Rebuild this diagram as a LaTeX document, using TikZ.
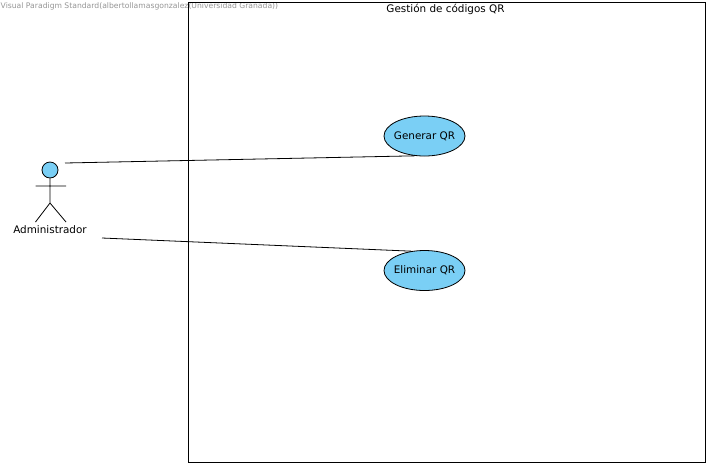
\documentclass[tikz,border=0pt]{standalone}
\usepackage{fontspec}
\setmainfont{DejaVu Sans}
\usetikzlibrary{shapes.geometric}
\definecolor{ucfill}{RGB}{122,207,245}
\definecolor{wmgray}{RGB}{150,150,150}
\newcommand{\uctext}[1]{\makebox[0pt][c]{#1}}
\tikzset{
  usecase/.style={ellipse,draw=black,fill=ucfill,line width=0.8pt,minimum width=81pt,minimum height=40pt,inner sep=0pt,font=\fontsize{10.4}{12}\selectfont},
  link/.style={draw=black,line width=0.8pt},
  stick/.style={draw=black,line width=0.8pt},
  lbl/.style={inner sep=0pt,font=\fontsize{10.4}{12}\selectfont},
  head/.style={circle,draw=black,fill=ucfill,line width=0.8pt,minimum size=16pt,inner sep=0pt},
  sysbox/.style={draw=black,line width=0.9pt,fill=none}
}
\begin{document}
\begin{tikzpicture}[x=1pt,y=-1pt]
\useasboundingbox[fill=white] (0,0) rectangle (709,467);
\node[anchor=west,inner sep=0pt,text=wmgray,font=\fontsize{7.65}{9}\selectfont] (wm) at (0.5,6.5) {Visual Paradigm Standard(albertollamasgonzalez(Universidad Granada))};
\node[sysbox,anchor=north west,minimum width=516.5pt,minimum height=460pt,inner sep=0pt,outer sep=0pt] (sys) at (188.5,2.5) {};
\node[lbl,anchor=center] (systitle) at (445.5,9) {Gestión de códigos QR};
\node[usecase] (gen) at (424.5,136) {\uctext{Generar QR}};
\node[usecase] (eli) at (424.5,270.5) {\uctext{Eliminar QR}};
\node[head] (actorhead) at (50,170) {};
\coordinate (hip) at (50,203);
\coordinate (armL) at (35.5,186);
\coordinate (armR) at (66,186);
\coordinate (legL) at (35.5,222);
\coordinate (legR) at (66,222);
\draw[stick] (actorhead) -- (hip) (armL) -- (armR) (hip) -- (legL) (hip) -- (legR);
\node[lbl] (actor) at (50,229.5) {Administrador};
\coordinate (s1) at (65,163);
\coordinate (s2) at (102,238);
\draw[link] (s1) -- (gen.244);
\draw[link] (s2) -- (eli.124);
\end{tikzpicture}
\end{document}
